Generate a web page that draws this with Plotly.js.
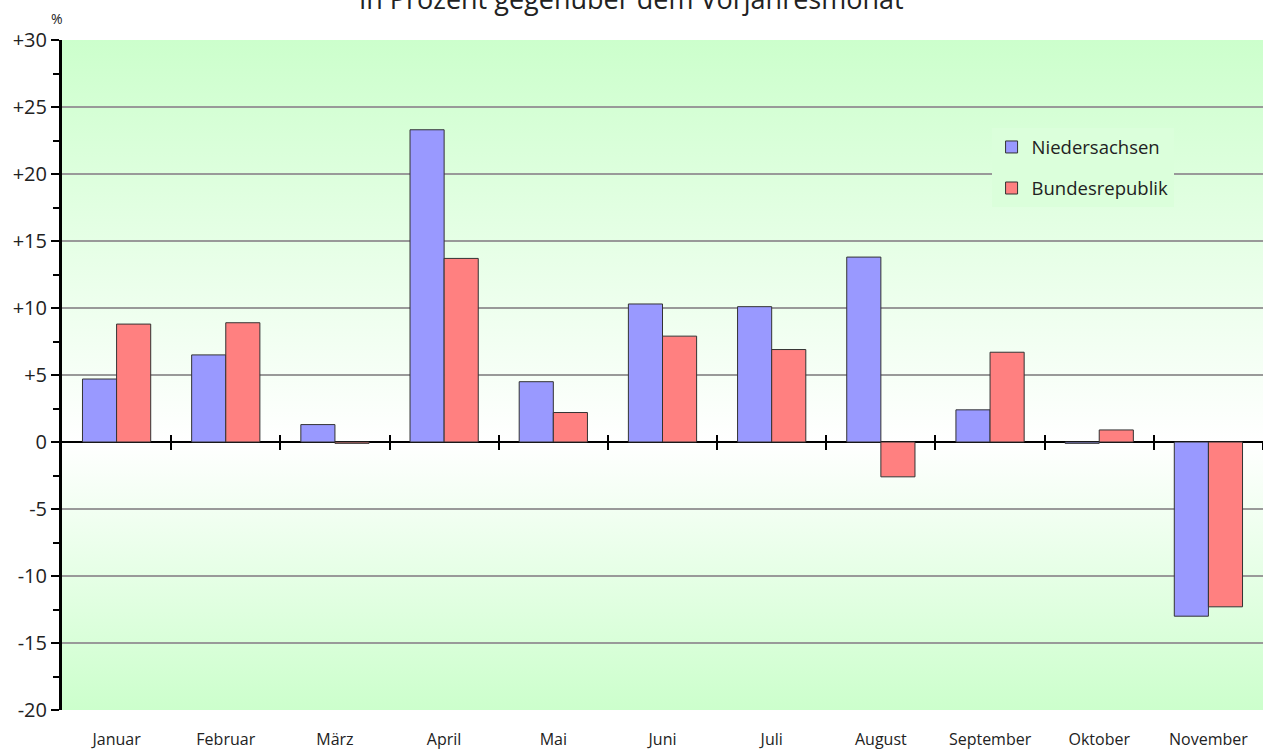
<!DOCTYPE html>
<html><head><meta charset="utf-8">
<script src="https://cdn.plot.ly/plotly-3.0.1.min.js"></script>
<style>html,body{margin:0;padding:0;background:#fff;} #chart{width:1263px;height:749px;}</style>
</head><body><div id="chart"></div>
<script>
const months = ['Januar','Februar','März','April','Mai','Juni','Juli','August','September','Oktober','November'];
const niedersachsen = [4.7, 6.5, 1.3, 23.3, 4.5, 10.3, 10.1, 13.8, 2.4, -0.1, -13.0];
const bundesrepublik = [8.8, 8.9, -0.1, 13.7, 2.2, 7.9, 6.9, -2.6, 6.7, 0.9, -12.3];
const yTickVals = [30, 25, 20, 15, 10, 5, 0, -5, -10, -15, -20];
const yTickText = ['+30', '+25', '+20', '+15', '+10', '+5', '0', '-5', '-10', '-15', '-20'];
const titleText = 'in Prozent gegenüber dem Vorjahresmonat';
const unitText = '%';

const yMin = -20, yMax = 30;
const zeroFrac = (0 - yMin) / (yMax - yMin);
const stopOffset = ((yMax - 0) / (yMax - yMin) * 100).toFixed(1);
const svg = '<svg xmlns="http://www.w3.org/2000/svg" width="100" height="100" viewBox="0 0 100 100" preserveAspectRatio="none">' +
  '<defs><linearGradient id="g" x1="0" y1="0" x2="0" y2="1">' +
  '<stop offset="0%" stop-color="#ccffcc"/><stop offset="' + stopOffset + '%" stop-color="#ffffff"/><stop offset="100%" stop-color="#ccffcc"/>' +
  '</linearGradient></defs><rect x="0" y="0" width="100" height="100" fill="url(#g)"/></svg>';
const bgSrc = 'data:image/svg+xml;charset=utf-8,' + encodeURIComponent(svg);

const boundaries = months.map((m, i) => i + 0.5);

const traces = [
  {type: 'bar', name: 'Niedersachsen', x: months, y: niedersachsen, legendgroup: 'a',
   marker: {color: '#9999ff', line: {color: '#333333', width: 1}}},
  {type: 'bar', name: 'Bundesrepublik', x: months, y: bundesrepublik, legendgroup: 'b',
   marker: {color: '#ff8080', line: {color: '#333333', width: 1}}},
  // invisible helper traces so the overlay tick axes get drawn
  {type: 'scatter', x: [0], y: [null], xaxis: 'x2', yaxis: 'y', showlegend: false, hoverinfo: 'skip', mode: 'markers', marker: {opacity: 0}},
  {type: 'scatter', x: [0], y: [null], xaxis: 'x3', yaxis: 'y', showlegend: false, hoverinfo: 'skip', mode: 'markers', marker: {opacity: 0}}
];

const tickAxis = (dir) => ({
  overlaying: 'x', anchor: 'free', position: zeroFrac, type: 'linear',
  range: [-0.5, months.length - 0.5], tickmode: 'array', tickvals: boundaries,
  ticks: dir, ticklen: 7, tickwidth: 2, tickcolor: '#000', showticklabels: false,
  showgrid: false, zeroline: false, showline: false, fixedrange: true
});

const layout = {
  width: 1263, height: 749,
  margin: {l: 62, r: 0, t: 40, b: 39},
  paper_bgcolor: '#ffffff', plot_bgcolor: 'rgba(0,0,0,0)',
  font: {family: 'Open Sans, sans-serif', color: '#222'},
  title: {text: titleText, font: {size: 27, color: '#222'}, x: 0.5, xref: 'container', y: 1.0, yref: 'container', yanchor: 'middle'},
  barmode: 'group', bargap: 0.375, bargroupgap: 0,
  showlegend: true,
  legend: {x: 0.774, y: 0.868, xanchor: 'left', yanchor: 'top', bgcolor: 'rgb(219,255,219)',
           font: {size: 18.5, color: '#222'}, tracegroupgap: 14, entrywidth: 260, itemwidth: 30},
  xaxis: {type: 'category', range: [-0.5, months.length - 0.5], showgrid: false, zeroline: false, showline: false,
          ticks: '', tickfont: {size: 16, color: '#222'}, ticklabelstandoff: 18, fixedrange: true},
  xaxis2: tickAxis('outside'),
  xaxis3: tickAxis('inside'),
  yaxis: {range: [yMin, yMax], tickmode: 'array', tickvals: yTickVals, ticktext: yTickText,
          showgrid: true, gridcolor: '#999999', gridwidth: 2,
          zeroline: true, zerolinecolor: '#000', zerolinewidth: 2,
          showline: true, linecolor: '#000', linewidth: 3,
          ticks: 'outside', ticklen: 8, tickwidth: 2, tickcolor: '#000',
          minor: {tickmode: 'linear', tick0: 2.5, dtick: 5, ticks: 'outside', ticklen: 6, tickwidth: 2, tickcolor: '#000', showgrid: false},
          tickfont: {size: 20, color: '#222'}, fixedrange: true},
  images: [{source: bgSrc, xref: 'paper', yref: 'paper', x: 0, y: 1, sizex: 1, sizey: 1,
            xanchor: 'left', yanchor: 'top', sizing: 'stretch', layer: 'below'}],
  annotations: [{text: unitText, xref: 'paper', yref: 'paper', x: -0.004, y: 1.0, xanchor: 'center', yanchor: 'bottom',
                 yshift: 10, showarrow: false, font: {size: 14, color: '#222'}}]
};

Plotly.newPlot('chart', traces, layout, {staticPlot: true, displayModeBar: false});
</script></body></html>
